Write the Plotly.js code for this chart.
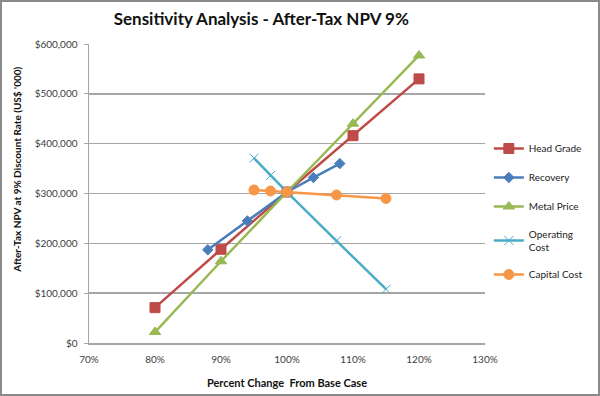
<!DOCTYPE html>
<html>
<head>
<meta charset="utf-8">
<script src="https://cdn.plot.ly/plotly-3.0.1.min.js"></script>
<style>
  html, body { margin: 0; padding: 0; background: #fff; }
  #wrap { position: relative; width: 600px; height: 396px; }
  #chart { width: 600px; height: 396px; }
  #frame { position: absolute; left: 0; top: 0; width: 600px; height: 396px; box-sizing: border-box; border: 2px solid #8a8a8a; pointer-events: none; }
</style>
</head>
<body>
<div id="wrap"><div id="chart"></div><div id="frame"></div></div>
<script>
// Data
const headGradeX = [80, 90, 100, 110, 120];
const headGradeY = [71000, 188000, 303000, 416000, 530000];

const recoveryX = [88, 94, 100, 104, 108];
const recoveryY = [187000, 245000, 303000, 332000, 360000];

const metalPriceX = [80, 90, 100, 110, 120];
const metalPriceY = [22000, 164000, 303000, 440000, 577000];

const opCostX = [95, 97.5, 100, 107.5, 115];
const opCostY = [371000, 336000, 303000, 205000, 108000];

const capCostX = [95, 97.5, 100, 107.5, 115];
const capCostY = [307000, 305000, 303000, 297000, 290000];

const xTickVals = [70, 80, 90, 100, 110, 120, 130];
const xTickText = ['70%', '80%', '90%', '100%', '110%', '120%', '130%'];
const yTickVals = [0, 100000, 200000, 300000, 400000, 500000, 600000];
const yTickText = ['$0', '$100,000', '$200,000', '$300,000', '$400,000', '$500,000', '$600,000'];

const FONT = 'Lato, "Open Sans", sans-serif';

function tr(name, x, y, color, symbol, size, group) {
  return {
    type: 'scatter', mode: 'lines+markers', name: name, x: x, y: y,
    legendgroup: group,
    line: { color: color, width: 2.5 },
    marker: { color: color, symbol: symbol, size: size, line: { color: color, width: 1 } },
    hoverinfo: 'x+y+name'
  };
}

const data = [
  tr('Head Grade', headGradeX, headGradeY, '#BE4B48', 'square', 10, 'a'),
  tr('Recovery', recoveryX, recoveryY, '#4A7EBB', 'diamond', 8, 'b'),
  tr('Metal Price', metalPriceX, metalPriceY, '#98B954', 'triangle-up', 10, 'c'),
  tr('Operating<br>Cost', opCostX, opCostY, '#4BACC6', 'x-thin', 9, 'd'),
  tr('Capital Cost', capCostX, capCostY, '#F79646', 'circle', 10, 'e')
];

const layout = {
  width: 600, height: 396,
  margin: { l: 89, r: 100, t: 44, b: 53 },
  paper_bgcolor: '#ffffff', plot_bgcolor: '#ffffff',
  font: { family: FONT, size: 10, color: '#333' },
  title: {
    text: '<b>Sensitivity Analysis - After-Tax NPV 9%</b>',
    font: { family: FONT, size: 17, color: '#111' },
    x: 261 / 600, xanchor: 'center', xref: 'paper',
    y: 1 - 19 / 396, yanchor: 'middle', yref: 'container'
  },
  xaxis: {
    range: [70, 130], tickvals: xTickVals, ticktext: xTickText,
    showgrid: false, zeroline: false,
    showline: true, linecolor: '#a6a6a6', linewidth: 1.5,
    ticks: '', ticklabelstandoff: 6,
    tickfont: { family: FONT, size: 10, color: '#404040' },
    title: { text: '<b>Percent Change  From Base Case</b>', font: { family: FONT, size: 11, color: '#111' }, standoff: 16 }
  },
  yaxis: {
    range: [0, 600000], tickvals: yTickVals, ticktext: yTickText,
    showgrid: true, gridcolor: '#a6a6a6', gridwidth: 1.5, zeroline: false,
    showline: true, linecolor: '#a6a6a6', linewidth: 1.5,
    ticks: 'outside', ticklen: 4, tickcolor: '#a6a6a6', ticklabelstandoff: 4,
    tickfont: { family: FONT, size: 10, color: '#404040' }
  },
  annotations: [{
    text: "<b>After-Tax NPV at 9% Discount Rate (US$ '000)</b>",
    xref: 'paper', yref: 'paper',
    x: -75 / 411, y: (343 - 170) / 299,
    xanchor: 'center', yanchor: 'middle', textangle: -90,
    showarrow: false, font: { family: FONT, size: 10, color: '#111' }
  }],
  legend: {
    x: (504 - 89) / 411, xanchor: 'left',
    y: (343 - 134) / 299, yanchor: 'top',
    font: { family: FONT, size: 10, color: '#222' },
    traceorder: 'grouped', tracegroupgap: 10,
    bgcolor: 'rgba(0,0,0,0)', itemwidth: 30
  },
  showlegend: true
};

Plotly.newPlot('chart', data, layout, { displayModeBar: false, staticPlot: true });
</script>
</body>
</html>
